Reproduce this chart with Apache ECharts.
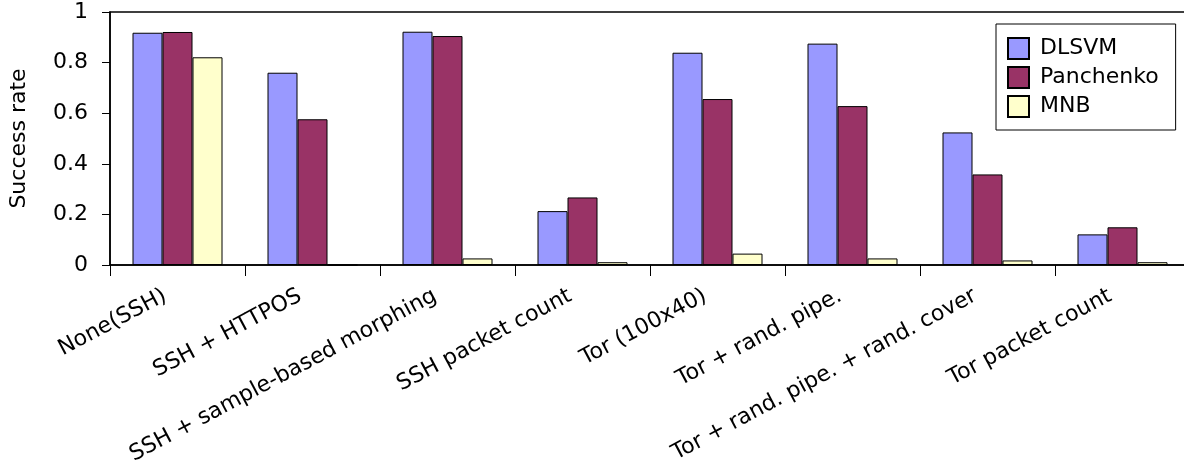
<!DOCTYPE html>
<html>
<head>
<meta charset="utf-8">
<script src="https://cdn.jsdelivr.net/npm/echarts@6/dist/echarts.min.js"></script>
<style>
  html, body { margin: 0; padding: 0; background: #fff; }
  #chart { width: 1184px; height: 467px; }
</style>
</head>
<body>
<div id="chart"></div>
<script>
// Attack / defence scenarios along the x axis
const categories = [
  'None(SSH)',
  'SSH + HTTPOS',
  'SSH + sample-based morphing',
  'SSH packet count',
  'Tor (100x40)',
  'Tor + rand. pipe.',
  'Tor + rand. pipe. + rand. cover',
  'Tor packet count'
];

// Success rate of each classifier per scenario
const dlsvm     = [0.918, 0.760, 0.922, 0.213, 0.839, 0.875, 0.524, 0.121];
const panchenko = [0.921, 0.576, 0.905, 0.267, 0.656, 0.628, 0.358, 0.149];
const mnb       = [0.821, 0.000, 0.026, 0.011, 0.045, 0.026, 0.018, 0.011];

const seriesNames = ['DLSVM', 'Panchenko', 'MNB'];
const seriesColors = ['#9999ff', '#993366', '#ffffcc'];
const seriesData = [dlsvm, panchenko, mnb];

const FONT = 'DejaVu Sans';

const chart = echarts.init(document.getElementById('chart'), null, { renderer: 'canvas' });

chart.setOption({
  animation: false,
  backgroundColor: '#ffffff',
  textStyle: { fontFamily: FONT, color: '#000' },
  grid: {
    left: 110, right: -6, top: 12, bottom: 202,
    outerBoundsMode: 'none',
    containLabel: false,
    show: true, borderColor: '#000', borderWidth: 1.5, backgroundColor: 'transparent'
  },
  legend: {
    orient: 'vertical',
    left: 996, top: 24,
    padding: [13, 17, 12, 11],
    icon: 'rect',
    itemWidth: 21, itemHeight: 21, itemGap: 6,
    borderColor: '#000', borderWidth: 1,
    backgroundColor: '#fff',
    textStyle: { fontFamily: FONT, fontSize: 22, color: '#000', padding: [0, 0, 0, 6] },
    data: seriesNames
  },
  xAxis: {
    type: 'category',
    data: categories,
    axisLine: { lineStyle: { color: '#000', width: 1.5 } },
    axisTick: { show: true, inside: false, length: 11, alignWithLabel: false, lineStyle: { color: '#000', width: 1 } },
    axisLabel: {
      interval: 0, rotate: 28, margin: 23,
      fontFamily: FONT, fontSize: 22, color: '#000',
      padding: [0, 14, 0, 0]
    },
    splitLine: { show: false }
  },
  yAxis: {
    type: 'value',
    min: 0, max: 1, interval: 0.2,
    name: 'Success rate',
    nameLocation: 'middle',
    nameGap: 80,
    nameTextStyle: { fontFamily: FONT, fontSize: 22, color: '#000' },
    axisLine: { show: true, lineStyle: { color: '#000', width: 1.5 } },
    axisTick: { show: true, inside: false, length: 8, lineStyle: { color: '#000', width: 1 } },
    axisLabel: { margin: 22, fontFamily: FONT, fontSize: 22, color: '#000' },
    splitLine: { show: false }
  },
  series: seriesNames.map((name, i) => ({
    name,
    type: 'bar',
    data: seriesData[i],
    barWidth: 30,
    barGap: '0%',
    itemStyle: { color: seriesColors[i], borderColor: '#000', borderWidth: 1 }
  }))
});
</script>
</body>
</html>
